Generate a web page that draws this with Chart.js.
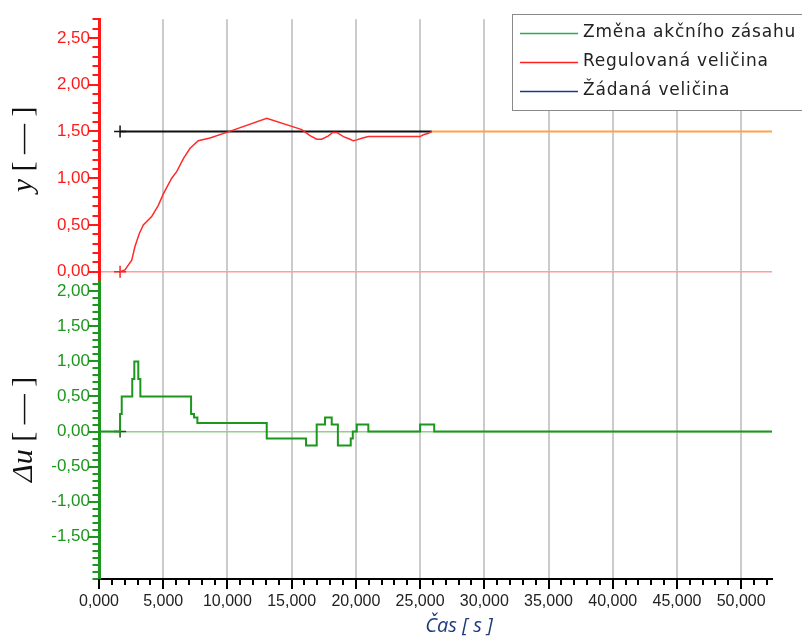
<!DOCTYPE html>
<html>
<head>
<meta charset="utf-8">
<script src="https://cdn.jsdelivr.net/npm/chart.js@4/dist/chart.umd.min.js"></script>
<style>
  html, body { margin: 0; padding: 0; background: #fff; }
</style>
</head>
<body>
<canvas id="graf" width="802" height="637"></canvas>
<script>
// regulovana velicina y (cas, hodnota)
const casY = [1.64, 2.02, 2.55, 2.8, 3.14, 3.45, 4.1, 4.62, 5.0, 5.66, 6.05, 6.57, 7.09, 7.73, 8.64, 9.95,
  13.06, 15.79, 16.43, 16.95, 17.34, 17.86, 18.2, 18.51, 19.03, 19.55, 19.8, 20.07, 20.46, 20.97,
  25.0, 25.26, 25.65, 25.91];
const regulovana = [0, 0.02, 0.125, 0.27, 0.41, 0.50, 0.59, 0.71, 0.83, 1.0, 1.07, 1.21, 1.32, 1.40, 1.43, 1.49,
  1.64, 1.52, 1.455, 1.417, 1.417, 1.453, 1.49, 1.49, 1.445, 1.417, 1.40, 1.41, 1.427, 1.445,
  1.445, 1.464, 1.48, 1.50];

// zadana velicina w
const casW = [1.64, 25.91];
const zadana = [1.5, 1.5];
const casWdal = [25.91, 52.4];
const zadanaDal = [1.5, 1.5];

// zmena akcniho zasahu du (skokove, hodnota plati od casu)
const casU = [0, 1.64, 1.77, 2.59, 2.75, 3.06, 3.22, 7.17, 7.4, 7.66, 13.06, 16.12, 16.95, 17.6, 18.12,
  18.6, 19.6, 19.76, 20.07, 20.97, 25.0, 26.1, 52.4];
const zmenaU = [0, 0.25, 0.5, 0.75, 1.0, 0.75, 0.5, 0.25, 0.2, 0.12, -0.1, -0.2, 0.1, 0.2, 0.1,
  -0.2, -0.1, 0, 0.1, 0, 0.1, 0, 0];

// kurzor
const kurzorX = [1.64];

// popisky os
const xPopisky = [0, 5, 10, 15, 20, 25, 30, 35, 40, 45, 50];
const yPopisky = [0, 0.5, 1, 1.5, 2, 2.5];
const uPopisky = [-1.5, -1, -0.5, 0, 0.5, 1, 1.5, 2];

const legenda = ['Změna akčního zásahu', 'Regulovaná veličina', 'Žádaná veličina'];
const legendaBarvy = ['#21b050', '#ff2020', '#1e3a8a'];

const CERVENA = '#ff1a1a';
const ZELENA = '#1d961d';

const pts = (xs, ys) => xs.map((x, i) => ({ x: x, y: ys[i] }));
const jeVe = (arr, v) => arr.some(a => Math.abs(a - v) < 1e-6);
const carka = (v, d) => v.toFixed(d).replace('.', ',');

// kresleni carek na osach (hlavni + vedlejsi)
const carkyPlugin = {
  id: 'carky',
  afterDraw(chart) {
    const c = chart.ctx;
    c.save();
    c.lineWidth = 2;
    [['y', yPopisky, CERVENA], ['yu', uPopisky, ZELENA]].forEach(([id, major, barva]) => {
      const s = chart.scales[id];
      c.strokeStyle = barva;
      s.ticks.forEach(t => {
        const py = Math.round(s.getPixelForValue(t.value));
        const len = jeVe(major, t.value) ? 9 : 5;
        c.beginPath();
        c.moveTo(s.right - 1.5 - len, py);
        c.lineTo(s.right, py);
        c.stroke();
      });
    });
    const sx = chart.scales.x;
    c.strokeStyle = '#000';
    sx.ticks.forEach(t => {
      const px = Math.round(sx.getPixelForValue(t.value));
      const len = jeVe(xPopisky, t.value) ? 9 : 5;
      c.beginPath();
      c.moveTo(px, sx.top);
      c.lineTo(px, sx.top + 1 + len);
      c.stroke();
    });
    c.restore();
  }
};

// nazvy os
const nazvyPlugin = {
  id: 'nazvy',
  afterDraw(chart) {
    const c = chart.ctx;
    const kresli = (kurziva, zbytek, cy) => {
      c.save();
      c.translate(32, cy);
      c.rotate(-Math.PI / 2);
      c.fillStyle = '#111';
      c.textBaseline = 'alphabetic';
      const f1 = 'italic 30px "Liberation Serif"';
      const f2 = '30px "Liberation Serif"';
      c.font = f1; const w1 = c.measureText(kurziva).width;
      c.font = f2; const w2 = c.measureText(zbytek).width;
      const x0 = -(w1 + w2) / 2;
      c.font = f1; c.fillText(kurziva, x0, 0);
      c.font = f2; c.fillText(zbytek, x0 + w1, 0);
      c.restore();
    };
    const sy = chart.scales.y, su = chart.scales.yu;
    kresli('y', ' [ — ]', (sy.top + sy.bottom) / 2);
    kresli('Δu', ' [ — ]', (su.top + su.bottom) / 2);

    c.save();
    c.font = 'italic 20px "Open Sans"';
    c.fillStyle = '#1e3c7c';
    c.textAlign = 'center';
    c.textBaseline = 'middle';
    c.fillText('Čas [ s ]', 459, 626);
    c.restore();
  }
};

// legenda v rohu
const legendaPlugin = {
  id: 'legenda',
  afterDraw(chart) {
    const c = chart.ctx;
    c.save();
    c.fillStyle = '#fff';
    c.fillRect(512, 14, 300, 96);
    c.strokeStyle = '#8a8a8a';
    c.lineWidth = 1;
    c.strokeRect(512.5, 14.5, 300, 96);
    c.font = '17px "DejaVu Sans"';
    c.letterSpacing = '0.8px';
    c.textBaseline = 'middle';
    legenda.forEach((txt, i) => {
      const y = 33 + i * 29;
      c.strokeStyle = legendaBarvy[i];
      c.lineWidth = 1.5;
      c.beginPath();
      c.moveTo(520, y + 0.5);
      c.lineTo(578, y + 0.5);
      c.stroke();
      c.fillStyle = '#222';
      c.fillText(txt, 583, y);
    });
    c.restore();
  }
};

const ctx = document.getElementById('graf').getContext('2d');
new Chart(ctx, {
  type: 'line',
  data: {
    datasets: [
      { label: legenda[0], data: pts(casU, zmenaU), yAxisID: 'yu', borderColor: ZELENA, borderWidth: 2,
        stepped: true, pointRadius: 0 },
      { label: legenda[1], data: pts(casY, regulovana), yAxisID: 'y', borderColor: '#ff2a2a', borderWidth: 1.5,
        pointRadius: 0 },
      { label: legenda[2], data: pts(casW, zadana), yAxisID: 'y', borderColor: '#111', borderWidth: 2,
        pointRadius: 0 },
      { label: 'w dal', data: pts(casWdal, zadanaDal), yAxisID: 'y', borderColor: '#ffa24a', borderWidth: 2,
        pointRadius: 0 },
      { label: 'kurzor w', data: kurzorX.map(x => ({ x: x, y: zadana[0] })), yAxisID: 'y', showLine: false,
        pointStyle: 'cross', pointRadius: 6, borderColor: '#111', borderWidth: 1.5 },
      { label: 'kurzor y', data: kurzorX.map(x => ({ x: x, y: 0 })), yAxisID: 'y', showLine: false,
        pointStyle: 'cross', pointRadius: 6, borderColor: '#ff2020', borderWidth: 1.5 },
      { label: 'kurzor u', data: kurzorX.map(x => ({ x: x, y: 0 })), yAxisID: 'yu', showLine: false,
        pointStyle: 'cross', pointRadius: 6, borderColor: '#115511', borderWidth: 1.5 }
    ]
  },
  options: {
    responsive: false,
    animation: false,
    devicePixelRatio: 1,
    layout: { padding: { top: 16, right: 30, left: 0, bottom: 0 } },
    plugins: { legend: { display: false }, tooltip: { enabled: false } },
    scales: {
      x: {
        type: 'linear', position: 'bottom', min: 0, max: 52.4,
        afterFit: s => { s.height = 58; },
        border: { color: '#000', width: 2 },
        grid: {
          drawTicks: false, lineWidth: 2,
          color: c => (c.tick && c.tick.value > 0 && jeVe(xPopisky, c.tick.value)) ? '#cbcbcb' : 'rgba(0,0,0,0)'
        },
        ticks: {
          stepSize: 1, maxTicksLimit: 1000, autoSkip: false, includeBounds: false, maxRotation: 0,
          padding: 13, color: '#222', font: { family: 'Liberation Sans', size: 16 },
          callback: v => jeVe(xPopisky, v) ? carka(v, 3) : ''
        }
      },
      yu: {
        type: 'linear', position: 'left', stack: 'panely', stackWeight: 301,
        min: -2.104, max: 2.166,
        afterFit: s => { s.width = 99; },
        border: { color: ZELENA, width: 3 },
        grid: {
          drawTicks: false, lineWidth: 1.5,
          color: c => (c.tick && c.tick.value === 0) ? '#8fd08f' : 'rgba(0,0,0,0)'
        },
        ticks: {
          stepSize: 0.1, maxTicksLimit: 1000, autoSkip: false, includeBounds: false,
          padding: 9, color: ZELENA, font: { family: 'Liberation Sans', size: 17 },
          callback: v => jeVe(uPopisky, v) ? carka(v, 2) : ''
        }
      },
      y: {
        type: 'linear', position: 'left', stack: 'panely', stackWeight: 262,
        min: -0.085, max: 2.70,
        afterFit: s => { s.width = 99; },
        border: { color: CERVENA, width: 3 },
        grid: {
          drawTicks: false, lineWidth: 1.5,
          color: c => (c.tick && c.tick.value === 0) ? '#ff9c9c' : 'rgba(0,0,0,0)'
        },
        ticks: {
          stepSize: 0.1, maxTicksLimit: 1000, autoSkip: false, includeBounds: false,
          padding: 9, color: CERVENA, font: { family: 'Liberation Sans', size: 17 },
          callback: v => jeVe(yPopisky, v) ? carka(v, 2) : ''
        }
      }
    }
  },
  plugins: [carkyPlugin, nazvyPlugin, legendaPlugin]
});
</script>
</body>
</html>
